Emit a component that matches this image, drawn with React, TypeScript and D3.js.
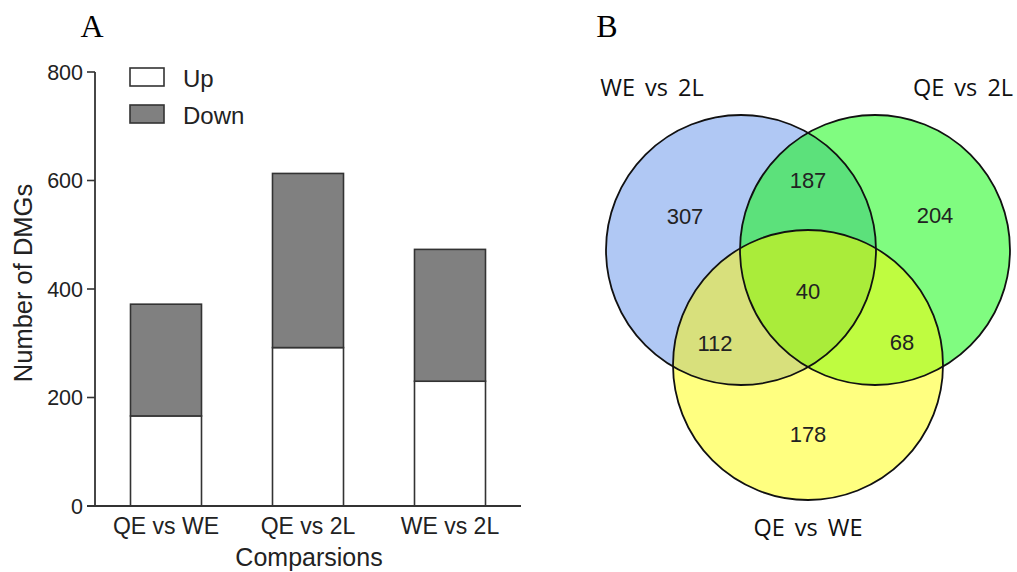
import React from "react";
import { scaleBand, scaleLinear, stack } from "d3";

// bar chart data
const comparisons = ["QE vs WE", "QE vs 2L", "WE vs 2L"];
const upCounts = [166, 292, 230];
const downCounts = [206, 321, 243];
const yTicks = [0, 200, 400, 600, 800];

// venn data
const setNames = ["WE vs 2L", "QE vs 2L", "QE vs WE"];
const regionKeys = ["A", "B", "C", "AB", "AC", "BC", "ABC"];
const regionCounts = [307, 204, 178, 187, 112, 68, 40];

const font = "'Liberation Sans', Arial, sans-serif";

const BarChart = () => {
  const x0 = 95;
  const x1 = 521;
  const y0 = 506;
  const y1 = 72;

  const xScale = scaleBand<string>()
    .domain(comparisons)
    .range([x0, x1])
    .paddingInner(0.5)
    .paddingOuter(0.25);

  const yScale = scaleLinear().domain([0, 800]).range([y0, y1]);

  const rows = comparisons.map((c, i) => ({ name: c, up: upCounts[i], down: downCounts[i] }));
  const series = stack<any>().keys(["up", "down"])(rows);
  const fills: Record<string, string> = { up: "#ffffff", down: "#808080" };

  return (
    <g>
      <text x={92} y={37} textAnchor="middle" fontFamily="'Liberation Serif', 'Times New Roman', serif" fontSize={32}>
        A
      </text>

      {/* bars */}
      {series.map((s) =>
        s.map((d, i) => (
          <rect
            key={s.key + i}
            x={xScale(comparisons[i])}
            y={yScale(d[1])}
            width={xScale.bandwidth()}
            height={yScale(d[0]) - yScale(d[1])}
            fill={fills[s.key]}
            stroke="#333"
            strokeWidth={1.6}
          />
        ))
      )}

      {/* y axis */}
      <line x1={x0} x2={x0} y1={y1} y2={y0} stroke="#333" strokeWidth={1.8} />
      {yTicks.map((t) => (
        <g key={t} transform={`translate(0,${yScale(t)})`}>
          <line x1={x0 - 8} x2={x0} stroke="#333" strokeWidth={1.6} />
          <text x={x0 - 12} dy=".35em" textAnchor="end" fontFamily={font} fontSize={21.5} fill="#222">
            {t}
          </text>
        </g>
      ))}

      {/* x axis */}
      <line x1={x0 - 8} x2={x1} y1={y0} y2={y0} stroke="#333" strokeWidth={1.8} />
      {comparisons.map((c) => (
        <text
          key={c}
          x={(xScale(c) ?? 0) + xScale.bandwidth() / 2}
          y={534}
          textAnchor="middle"
          fontFamily={font}
          fontSize={23}
          fill="#222"
        >
          {c}
        </text>
      ))}
      <text x={309} y={566} textAnchor="middle" fontFamily={font} fontSize={25} fill="#222">
        Comparsions
      </text>
      <text
        transform="translate(32,283) rotate(-90)"
        textAnchor="middle"
        fontFamily={font}
        fontSize={25.5}
        fill="#222"
      >
        Number of DMGs
      </text>

      {/* legend */}
      {["up", "down"].map((k, i) => (
        <g key={k} transform={`translate(130,${68 + i * 37})`}>
          <rect width={34} height={18} fill={fills[k]} stroke="#333" strokeWidth={1.6} />
          <text x={53} y={19} fontFamily={font} fontSize={24} fill="#222">
            {k === "up" ? "Up" : "Down"}
          </text>
        </g>
      ))}
    </g>
  );
};

const Venn = () => {
  const r = 135;
  // circle centres
  const circles = [
    { cx: 741, cy: 250, fill: "#b0c8f4" },
    { cx: 875, cy: 250, fill: "#80fc80" },
    { cx: 808, cy: 365, fill: "#ffff80" },
  ];

  // label positions for regions and set names
  const regionPos: Record<string, [number, number]> = {
    A: [685, 216],
    B: [935, 215],
    C: [808, 434],
    AB: [808, 180],
    AC: [715, 343],
    BC: [902, 342],
    ABC: [808, 291],
  };
  const namePos: [number, number][] = [
    [652, 88],
    [963, 88],
    [808, 528],
  ];

  const overlapFill = { AB: "#5ce17b", AC: "#d8e07c", BC: "#bffc40", ABC: "#aaec3a" };

  return (
    <g>
      <text x={607} y={37} textAnchor="middle" fontFamily="'Liberation Serif', 'Times New Roman', serif" fontSize={32}>
        B
      </text>
      <defs>
        {circles.map((c, i) => (
          <clipPath key={i} id={`clip${i}`}>
            <circle cx={c.cx} cy={c.cy} r={r} />
          </clipPath>
        ))}
      </defs>

      {circles.map((c, i) => (
        <circle key={i} cx={c.cx} cy={c.cy} r={r} fill={c.fill} />
      ))}
      {/* overlaps */}
      <circle cx={circles[1].cx} cy={circles[1].cy} r={r} fill={overlapFill.AB} clipPath="url(#clip0)" />
      <circle cx={circles[2].cx} cy={circles[2].cy} r={r} fill={overlapFill.AC} clipPath="url(#clip0)" />
      <circle cx={circles[2].cx} cy={circles[2].cy} r={r} fill={overlapFill.BC} clipPath="url(#clip1)" />
      <g clipPath="url(#clip0)">
        <circle cx={circles[2].cx} cy={circles[2].cy} r={r} fill={overlapFill.ABC} clipPath="url(#clip1)" />
      </g>

      {circles.map((c, i) => (
        <circle key={"s" + i} cx={c.cx} cy={c.cy} r={r} fill="none" stroke="#111" strokeWidth={1.8} />
      ))}

      {regionKeys.map((k, i) => (
        <text
          key={k}
          x={regionPos[k][0]}
          y={regionPos[k][1]}
          dy=".35em"
          textAnchor="middle"
          fontFamily={font}
          fontSize={22}
          fill="#222"
        >
          {regionCounts[i]}
        </text>
      ))}

      {setNames.map((n, i) => (
        <text
          key={n}
          x={namePos[i][0]}
          y={namePos[i][1]}
          dy=".35em"
          textAnchor="middle"
          fontFamily="'Open Sans', 'Noto Sans', sans-serif"
          fontSize={23.5}
          wordSpacing={4}
          fill="#111"
        >
          {n}
        </text>
      ))}
    </g>
  );
};

export default function App() {
  return (
    <svg width={1017} height={572} style={{ position: "absolute", left: 0, top: 0, background: "#fff" }}>
      <BarChart />
      <Venn />
    </svg>
  );
}
